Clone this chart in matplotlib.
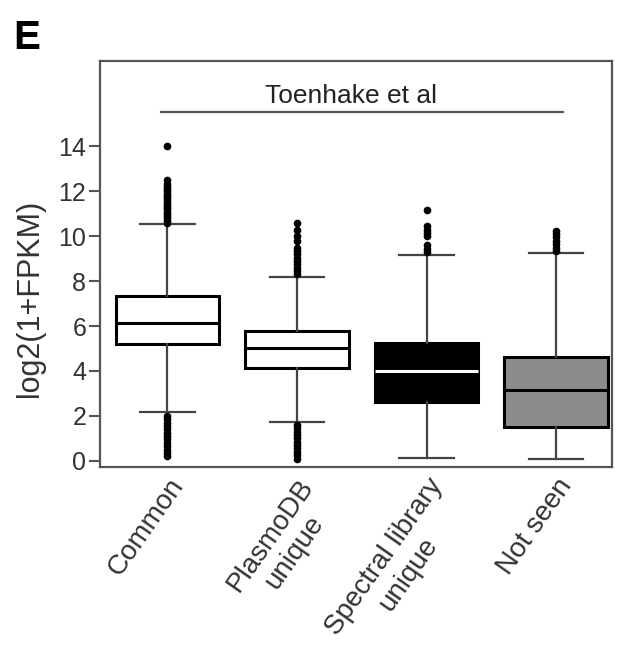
import matplotlib
matplotlib.use("Agg")
import matplotlib.pyplot as plt

# ---------- data ----------
categories = ["Common", "PlasmoDB\nunique", "Spectral library\nunique", "Not seen"]
q1 = [5.2, 4.13, 2.62, 1.51]
medians = [6.13, 5.02, 4.0, 3.16]
q3 = [7.33, 5.78, 5.24, 4.62]
whisk_lo = [2.18, 1.73, 0.13, 0.09]
whisk_hi = [10.53, 8.18, 9.16, 9.24]
fliers = [
    [10.6, 10.7, 10.8, 10.9, 11.0, 11.1, 11.2, 11.3, 11.4, 11.5, 11.6, 11.7, 11.8,
     11.9, 12.0, 12.1, 12.2, 12.35, 12.5, 14.0,
     2.0, 1.85, 1.7, 1.55, 1.4, 1.25, 1.1, 0.95, 0.8, 0.65, 0.5, 0.35, 0.2],
    [8.3, 8.45, 8.6, 8.75, 8.9, 9.05, 9.2, 9.35, 9.5, 9.8, 10.0, 10.3, 10.6,
     1.6, 1.45, 1.3, 1.15, 1.0, 0.85, 0.7, 0.55, 0.4, 0.25, 0.1],
    [9.3, 9.45, 9.6, 10.0, 10.15, 10.3, 10.45, 11.15],
    [9.35, 9.5, 9.65, 9.8, 9.95, 10.1, 10.25],
]
box_colors = ["white", "white", "black", "#8c8c8c"]
median_colors = ["black", "black", "white", "black"]
yticks = [0, 2, 4, 6, 8, 10, 12, 14]

FONT = "Liberation Sans"
INK = "#333333"

fig = plt.figure(figsize=(6.18, 6.65), dpi=100)
ax = fig.add_axes([0.162, 0.298, 0.828, 0.610])

stats = []
for i in range(len(categories)):
    stats.append(dict(med=medians[i], q1=q1[i], q3=q3[i], whislo=whisk_lo[i],
                      whishi=whisk_hi[i], fliers=fliers[i], label=categories[i]))

positions = list(range(len(categories)))
bp = ax.bxp(stats, positions=positions, widths=0.8, patch_artist=True,
            showfliers=True, capwidths=0.42,
            boxprops=dict(edgecolor="black", linewidth=2.2),
            whiskerprops=dict(color="#444444", linewidth=1.6),
            capprops=dict(color="#444444", linewidth=1.6),
            medianprops=dict(linewidth=2.2),
            flierprops=dict(marker="o", markersize=4.5, markerfacecolor="black",
                            markeredgecolor="black", linestyle="none"))
for patch, c in zip(bp["boxes"], box_colors):
    patch.set_facecolor(c)
for med, c in zip(bp["medians"], median_colors):
    med.set_color(c)

ax.set_xlim(-0.52, 3.43)
ax.set_ylim(-0.27, 17.8)
ax.set_yticks(yticks)
ax.set_yticklabels([str(t) for t in yticks], fontfamily=FONT, fontsize=18, color=INK)
ax.set_xticks(positions)
ax.set_xticklabels(categories, rotation=55, ha="right", va="top",
                   rotation_mode="anchor", multialignment="center",
                   fontfamily=FONT, fontsize=20, color=INK)
ax.tick_params(axis="y", direction="out", length=8, width=1.5, color="#555555", pad=2)
ax.tick_params(axis="x", length=0, pad=5)
for s in ax.spines.values():
    s.set_color("#555555")
    s.set_linewidth(1.6)

ax.set_ylabel("log2(1+FPKM)", fontfamily=FONT, fontsize=22, color=INK)
ax.yaxis.set_label_coords(-0.108, 0.416)

# study annotation line
ax.plot([-0.05, 3.05], [15.55, 15.55], color="#555555", linewidth=1.6)
ax.text(1.42, 15.95, "Toenhake et al", ha="center", va="baseline",
        fontfamily=FONT, fontsize=19, color="#222222")

fig.text(0.022, 0.972, "E", fontfamily=FONT, fontweight="bold", fontsize=29,
         color="black", va="top")

fig.savefig("out.png", dpi=100, facecolor="white")
